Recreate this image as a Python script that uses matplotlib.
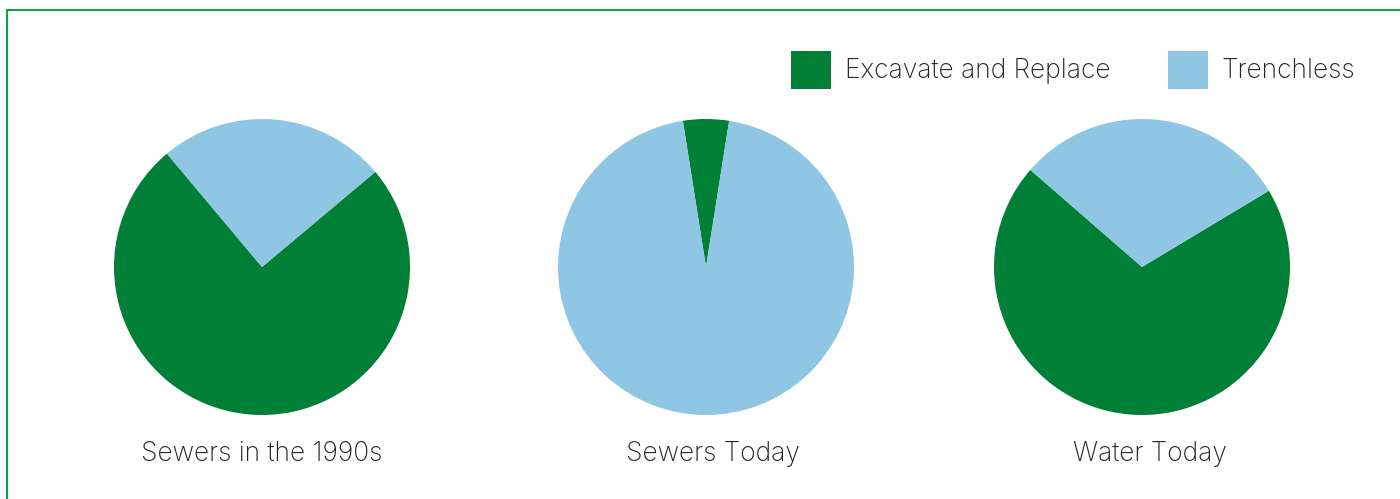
import matplotlib
matplotlib.use("Agg")
import matplotlib.pyplot as plt
from matplotlib.patches import Patch, Rectangle

plt.rcParams["font.family"] = ["Inter", "DejaVu Sans"]
plt.rcParams["font.weight"] = "light"

titles = ["Sewers in the 1990s", "Sewers Today", "Water Today"]
series_names = ["Excavate and Replace", "Trenchless"]
excavate = [75, 5, 70]
trenchless = [25, 95, 30]

colors = ["#007f36", "#8fc6e3"]
start_angles = [130, 81, 139]
centers_px = [262, 706, 1142]
title_x_px = [262, 713, 1150]

W, H = 1400, 499
fig = plt.figure(figsize=(W / 100, H / 100), dpi=100)

# green frame (top + left edges visible)
fig.patches.append(Rectangle((7 / W, -0.1), 1.2, (H - 10) / H + 0.1, transform=fig.transFigure,
                             fill=False, edgecolor="#1e9a4c", linewidth=1.5))

r = 148
cy = 267
for i, title in enumerate(titles):
    cx = centers_px[i]
    ax = fig.add_axes([(cx - r) / W, (H - cy - r) / H, 2 * r / W, 2 * r / H])
    ax.pie([excavate[i], trenchless[i]], colors=colors, startangle=start_angles[i],
           counterclock=True, radius=1.0, wedgeprops={"linewidth": 0})
    ax.set_xlim(-1, 1)
    ax.set_ylim(-1, 1)
    ax.set_aspect("equal")
    ax.axis("off")
    fig.text(title_x_px[i] / W, (H - 454) / H, title, ha="center", va="center",
             fontsize=19, color="#222222")

handles = [Patch(facecolor=c, edgecolor="none") for c in colors]
fig.legend(handles, series_names, loc="center right", bbox_to_anchor=(1355 / W, (H - 70) / H),
           ncol=2, frameon=False, fontsize=19, handlelength=1.52, handleheight=1.88,
           handletextpad=0.5, columnspacing=2.2, borderaxespad=0, borderpad=0,
           labelcolor="#222222")

fig.savefig("out.png", dpi=100)
